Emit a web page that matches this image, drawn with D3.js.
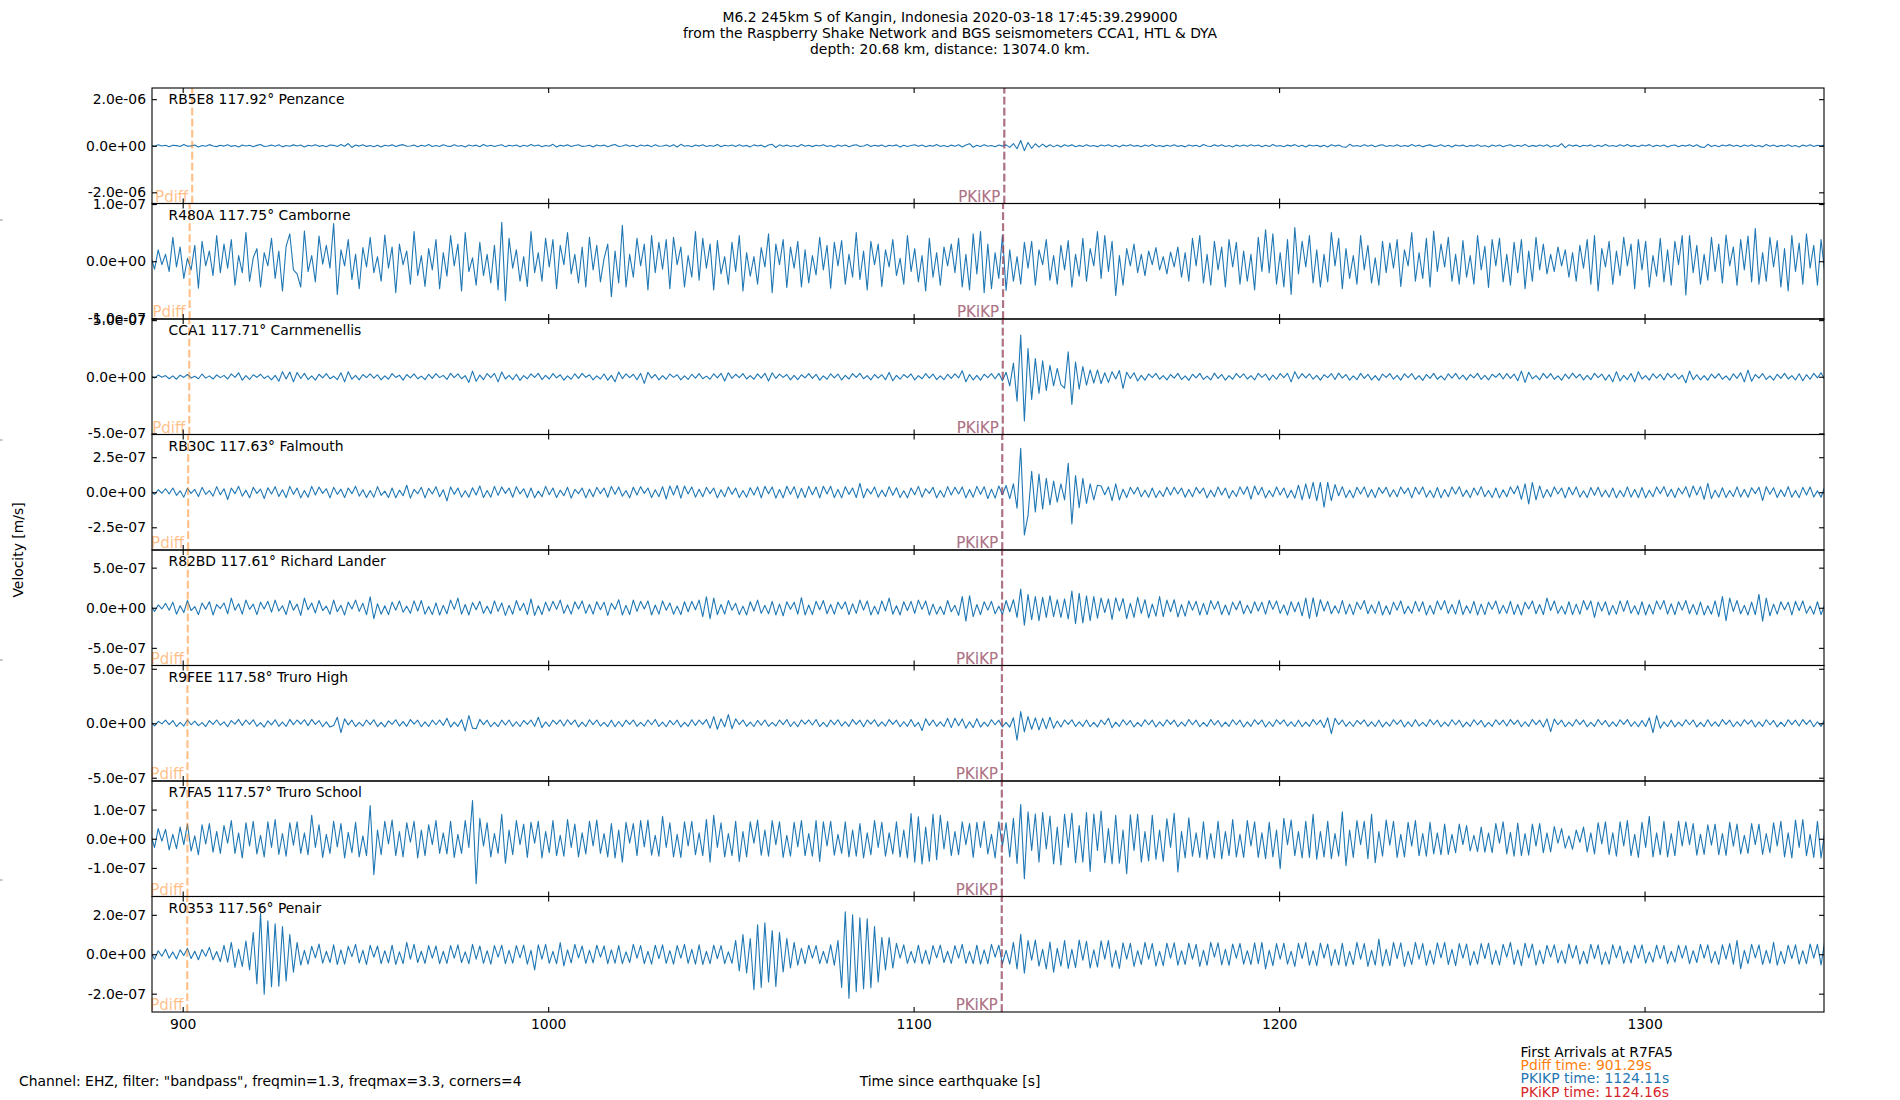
<!DOCTYPE html>
<html>
<head>
<meta charset="utf-8">
<script src="https://d3js.org/d3.v7.min.js"></script>
<style>
  body { margin: 0; background: #fff; }
  svg { display: block; font-family: "DejaVu Sans", sans-serif; }
</style>
</head>
<body>
<svg id="chart" width="1900" height="1100"></svg>
<script>
// ---- station metadata (top to bottom) ----
const codes  = ["RB5E8", "R480A", "CCA1", "RB30C", "R82BD", "R9FEE", "R7FA5", "R0353"];
const dists  = [117.92, 117.75, 117.71, 117.63, 117.61, 117.58, 117.57, 117.56];
const places = ["Penzance", "Camborne", "Carnmenellis", "Falmouth", "Richard Lander", "Truro High", "Truro School", "Penair"];
// arrival times, s after origin
const pdiffT  = [902.6, 901.9, 901.8, 901.5, 901.4, 901.3, 901.29, 901.25];
const pkikpT  = [1124.78, 1124.45, 1124.37, 1124.22, 1124.18, 1124.13, 1124.11, 1124.09];  // PKIKP
const pkikp2T = [1124.83, 1124.50, 1124.42, 1124.27, 1124.23, 1124.18, 1124.16, 1124.14];  // PKiKP
// y limits (m/s) and tick values per panel
const yLimits = [2.48e-6, 1.01e-7, 5.1e-7, 4.12e-7, 7.2e-7, 5.3e-7, 1.98e-7, 2.93e-7];
const yTickVals = [
  [-2e-6, 0, 2e-6], [-1e-7, 0, 1e-7], [-5e-7, 0, 5e-7], [-2.5e-7, 0, 2.5e-7],
  [-5e-7, 0, 5e-7], [-5e-7, 0, 5e-7], [-1e-7, 0, 1e-7], [-2e-7, 0, 2e-7]
];
const xTickVals = [900, 1000, 1100, 1200, 1300];
const xDomain = [891.6, 1349.1];

// ---- traces: velocity in nm/s, first sample at t0, one sample per dt seconds ----
const t0 = 891.3, dt = 1;

const rb5e8 = [
  8,-25,40,-12,18,-45,22,5,-30,55,-18,-6,35,-50,14,-22,48,-10,-38,20,
  -15,42,-28,10,-55,30,-8,25,-40,16,52,-35,-12,28,-20,45,-48,12,-25,38,
  -10,30,-52,22,-14,40,-26,8,-45,35,18,-30,50,-20,95,-75,30,-15,42,-28,
  12,-40,25,-55,20,-10,38,-32,15,48,-22,-8,30,-45,25,-18,52,-30,10,-35,
  40,-15,-28,45,-20,8,-50,32,-12,26,-42,55,-18,20,-35,12,40,-48,22,-10,
  30,-45,18,-25,50,-12,35,-40,10,-22,60,-55,25,-15,38,-30,12,45,-28,-8,
  22,-50,35,-10,28,-42,15,50,-30,-12,40,-25,18,-48,32,-8,26,-38,45,-20,
  -12,35,-28,48,-55,60,-22,10,-40,30,-15,45,-35,12,-25,50,-42,18,-10,32,
  -30,45,-20,15,-48,38,-12,26,-55,30,62,-75,40,-18,28,-35,10,-42,50,-25,
  18,-38,22,-10,45,-30,12,-52,35,-20,28,-45,15,40,-28,-8,50,-35,20,-15,
  30,-48,25,-12,38,-55,20,-30,10,45,-25,35,-40,15,-22,50,-32,8,-45,28,
  -18,40,-50,30,90,-65,22,-35,48,-20,12,-42,30,-15,38,-70,95,-130,225,-210,
  140,-115,85,-60,70,-55,40,-48,30,-52,45,-20,38,-42,15,-30,48,-25,12,-38,
  30,-12,45,-35,20,-50,28,-8,40,-25,15,-45,32,-18,50,-30,10,-38,25,-20,
  42,-28,12,-48,35,-15,22,-40,50,-10,-30,38,-22,45,-32,8,-50,28,-18,35,
  -25,40,-12,30,-45,18,-35,52,-20,10,-42,28,-15,48,-30,22,-55,35,-8,25,
  -38,20,-50,45,-15,30,-40,-68,60,-25,12,-35,48,-20,28,-45,15,40,-30,10,
  -22,45,-35,12,-28,50,-18,30,-48,8,38,-25,-15,42,-32,20,-55,35,-12,28,
  -40,15,-25,48,-30,10,-52,35,-20,28,-45,12,40,-35,22,-18,50,-38,15,-28,
  35,-20,45,-50,12,-30,92,-78,40,-15,28,-42,20,-10,38,-48,25,-32,50,-18,
  10,-35,40,-22,55,-28,15,-45,30,-12,48,-38,20,-25,35,-50,12,30,-42,22,
  -15,38,-28,45,-50,-78,62,-35,18,-40,30,-12,48,-25,20,-45,35,-18,42,-30,
  12,-48,55,-20,30,-38,15,-25,45,-32,10,-50,28,-18,40,-35,22,-12,38,-45
];

const r480a = [
  8,-14,20,-6,12,-18,42,-10,25,-30,5,-15,28,-47,35,-8,18,-25,45,-20,
  30,-12,38,-42,10,-20,50,-35,6,22,-45,15,-8,40,-30,18,-52,26,48,-15,
  -22,-45,53,-18,10,-36,44,-5,28,-12,66,-58,20,-8,38,-32,12,-48,24,-10,
  42,-20,8,-35,46,-12,25,-55,30,-6,18,-40,52,-25,10,-44,22,-15,38,-48,
  15,-26,45,-8,30,-52,50,-18,6,-42,33,-25,12,-38,28,-50,68,-69,40,-12,
  20,-35,8,-44,52,-20,15,-35,40,-10,38,-48,28,-6,50,-22,12,-38,25,-45,
  42,-15,28,-36,5,30,-62,18,-38,63,-45,12,-28,40,-8,30,-50,45,-20,33,
  -14,38,-48,42,-6,25,-45,10,-28,52,-33,40,-12,30,-50,36,-22,8,-40,33,
  -18,45,-52,15,-26,8,-40,24,-10,48,-55,30,-6,38,-46,25,-12,35,-45,20,
  -38,10,-24,42,-15,28,-47,33,-8,36,-40,12,-28,50,-32,18,-50,35,-6,30,
  -44,20,-10,38,-25,5,-40,45,-18,22,-36,10,-52,40,-28,15,-42,25,-8,30,
  -20,40,-45,12,-50,48,-22,52,-55,30,-48,15,-30,45,-51,20,-35,8,-40,33,
  -12,35,-42,20,-6,38,-33,10,-40,28,-15,36,-45,12,-26,40,-35,22,-8,52,
  -30,45,-18,35,-60,10,-42,22,-8,30,-20,12,-25,18,-6,24,-15,8,-22,16,
  -10,25,-28,15,-35,40,-8,45,-38,12,-42,35,-15,25,-45,38,-10,33,-40,18,
  -35,12,-50,42,-18,55,-20,48,-40,15,-45,38,-58,59,-22,35,-10,45,-38,20,
  -45,12,-36,50,-8,40,-48,22,-30,10,-40,45,-15,28,-38,6,-42,35,-20,32,
  -12,38,-44,20,-8,50,-35,15,-30,40,-45,53,-18,30,-10,42,-35,12,-40,36,
  -28,10,-40,45,-15,26,-46,38,-8,40,-36,12,-42,33,-20,38,-48,18,-35,42,
  -15,30,-22,12,-18,25,-8,20,-28,15,-35,28,-12,38,-40,45,-52,22,-10,35,
  -40,18,-25,42,-8,30,-48,38,-15,35,-45,10,-26,40,-36,20,-42,35,-6,45,
  -59,45,-20,28,-40,12,-33,42,-18,30,-38,46,-8,25,-42,38,-15,44,-36,57,
  -40,15,-35,42,-10,36,-45,22,-52,45,-18,32,-40,48,-12,28,-42,38,-20,40
];

const cca1 = [
  6,-12,15,-4,10,-18,8,-22,14,-6,20,-10,5,-18,24,-12,8,-20,16,-8,
  12,-20,25,-6,35,-30,10,-24,18,-5,22,-15,8,-28,12,-40,45,-20,42,-45,
  38,-15,30,-25,8,-30,22,-10,28,-18,5,-26,35,-45,45,-22,12,-28,20,-8,
  25,-12,18,-28,8,-22,28,-6,14,-30,20,-10,26,-18,6,-25,22,-14,28,-8,
  12,-24,30,-8,25,-18,10,-50,50,-40,15,-26,28,-8,30,-45,42,-20,12,-26,
  22,-32,10,-18,26,-6,30,-25,12,-20,28,-10,18,-30,8,-22,26,-14,30,-5,
  18,-28,8,-20,24,-30,12,-45,42,-16,25,-8,22,-26,30,-59,40,-12,20,-28,
  10,-22,24,-6,18,-28,8,-24,22,-12,28,-18,6,-22,26,-10,30,-38,35,-14,
  22,-8,28,-20,10,-22,25,-12,30,-38,35,-15,24,-6,20,-28,12,-25,18,-10,
  28,-14,22,-30,8,-22,26,-10,24,-28,12,-20,28,-6,30,-18,10,-28,20,-12,
  18,-26,38,-35,12,-22,20,-8,25,-28,10,-18,28,-12,24,-25,8,-26,22,-14,
  26,-10,53,-45,20,-28,12,-30,22,-8,28,-18,30,-35,40,-80,120,-215,368,-391,
  250,-200,160,-147,140,-120,100,-80,73,-70,-100,220,-244,130,-110,90,-75,60,-55,60,
  -60,35,-50,45,-20,55,-103,40,-15,35,-38,12,-30,25,-8,30,-22,10,-28,20,
  -12,30,-25,8,-32,22,-10,30,-24,6,-28,32,-15,20,-30,10,-22,28,-8,26,
  -20,10,-28,30,-6,24,-30,15,-22,28,-8,30,-45,45,-18,28,-10,26,-22,12,
  -30,18,-8,28,-24,32,-12,20,-30,8,-26,30,-14,22,-28,10,-32,24,-6,28,
  -22,12,-30,26,-8,28,-24,10,-32,20,-14,30,-22,8,-28,26,-12,30,-20,14,
  -28,20,-10,30,-24,12,-28,22,-6,30,-20,28,-14,24,-35,50,-50,40,-18,10,
  -26,30,-12,28,-22,8,-30,24,-16,32,-10,22,-28,12,-26,30,-8,24,-30,18,
  -45,45,-38,12,-25,28,-45,45,-20,10,-30,26,-12,22,-28,30,-8,26,-20,14,
  -53,50,-25,18,-28,10,-30,24,-12,28,-22,8,-30,26,-14,35,-45,59,-40,20,
  -12,28,-24,8,-30,22,-14,30,-20,10,-28,26,-35,18,-22,30,-10,35,-26,12
];

const rb30c = [
  8,-15,18,-6,25,-12,30,-22,10,-35,28,-8,20,-30,35,-15,12,-28,40,-18,
  25,-52,30,-10,42,-28,15,-40,35,-8,22,-45,32,-12,40,-30,18,-38,42,-15,
  30,-40,12,-36,42,-20,38,-8,25,-40,35,-15,22,-38,30,-10,42,-28,18,-38,
  12,-35,40,-22,8,-38,30,-40,15,-25,50,-42,20,-10,35,-40,28,-12,40,-32,
  18,-62,38,-15,30,-35,10,-36,32,-20,45,-38,12,-35,42,-22,38,-8,30,-36,
  40,-12,25,-38,30,-40,8,-32,42,-18,30,-38,15,-25,35,-42,20,-10,30,-40,
  22,-32,35,-10,30,-36,42,-15,38,-28,12,-40,36,-20,40,-8,30,-38,18,-32,
  40,-48,45,-20,48,-42,45,-12,38,-35,22,-32,35,-10,30,-40,18,-32,38,-15,
  30,-38,12,-35,32,-20,38,-40,42,-10,38,-42,20,-40,43,-15,40,-42,28,-38,
  42,-18,38,-40,43,-12,42,-38,20,-40,40,-15,30,-38,64,-40,25,-12,38,-35,
  15,-30,40,-22,32,-38,10,-40,30,-18,42,-35,25,-8,36,-40,12,-35,40,-20,
  35,-12,38,-40,20,-35,42,-15,40,-45,22,-42,45,-18,48,-45,60,-114,314,-304,
  -165,150,-140,130,-120,100,-90,80,-70,60,-55,207,-226,119,-110,100,-80,60,-55,50,
  45,-18,38,-60,60,-55,22,-38,35,-12,36,-32,15,-35,30,-38,10,-30,36,-20,
  35,-12,30,-36,20,-32,35,-8,30,-40,15,-32,38,-20,30,-42,12,-30,38,-15,
  40,-48,45,-18,35,-40,12,-32,38,-20,30,-40,15,-42,50,-55,60,-45,71,-60,
  70,-107,71,-60,55,-25,40,-38,15,-40,36,-12,38,-35,20,-38,34,-8,36,-32,
  18,-32,38,-10,30,-40,36,-15,38,-35,12,-38,34,-40,20,-32,38,-12,40,-30,
  15,-38,30,-20,40,-32,12,-38,30,-40,18,-32,38,-10,45,-50,60,-83,70,-55,
  45,-40,20,-32,38,-12,30,-40,36,-18,38,-35,10,-38,34,-22,36,-32,15,-35,
  30,-40,12,-32,38,-35,20,-38,34,-40,15,-32,38,-10,40,-30,22,-38,30,-12,
  40,-36,45,-20,40,-50,64,-45,15,-36,32,-38,12,-30,38,-34,20,-36,32,-10,
  35,-59,40,-15,32,-38,18,-30,40,-36,12,-38,35,-20,38,-34,10,-36,38,-35
];

const r82bd = [
  20,-45,35,-15,55,-30,70,-80,25,-60,90,-35,15,-85,60,-20,75,-90,40,-10,
  60,-75,120,-30,50,-80,95,-20,45,-85,70,-15,80,-55,95,-40,25,-85,90,-30,
  45,-95,120,-25,60,-65,90,-35,20,-80,95,-50,30,-90,70,-15,95,-45,55,-85,
  137,-137,50,-80,25,-85,70,-30,85,-55,20,-70,85,-40,90,-80,15,-85,60,-90,
  30,-75,95,-20,120,-80,40,-90,65,-25,80,-70,20,-75,85,-45,60,-95,30,-80,
  90,-35,55,-85,110,-95,25,-85,70,-40,80,-20,95,-70,35,-80,75,-15,85,-70,
  40,-80,75,-25,70,-95,55,-20,100,-90,30,-85,95,-45,80,-15,85,-90,35,-80,
  85,-30,60,-80,20,-85,75,-50,80,-25,95,-110,137,-137,120,-85,40,-80,90,-30,
  55,-85,20,-90,75,-40,95,-70,30,-75,80,-90,45,-100,75,-20,70,-80,125,-90,
  35,-85,80,-25,90,-75,40,-80,70,-15,75,-85,50,-70,95,-30,85,-90,20,-80,
  85,-40,120,-80,25,-90,75,-35,80,-70,95,-20,85,-90,45,-80,15,-85,90,-50,
  30,-95,140,-166,150,-110,40,-85,75,-30,80,-75,20,-85,90,-50,100,-120,233,-216,
  166,-150,140,-160,130,-120,150,-110,100,-120,110,-140,208,-200,180,-190,150,-160,140,-130,
  120,-60,110,-145,125,-40,115,-135,55,-120,130,-70,100,-125,45,-105,140,-110,95,-50,
  100,-115,40,-105,85,-30,80,-90,55,-85,90,-20,80,-85,35,-90,70,-25,85,-75,
  30,-70,75,-40,70,-80,90,-20,85,-70,35,-90,75,-50,70,-100,120,-133,125,-110,
  100,-40,80,-75,25,-70,90,-80,45,-85,70,-20,90,-75,35,-70,80,-90,25,-85,
  70,-30,85,-75,20,-70,80,-45,75,-90,30,-80,85,-25,90,-70,40,-80,95,-85,
  25,-70,80,-90,45,-85,70,-20,85,-75,30,-70,80,-85,40,-90,70,-15,85,-75,
  40,-85,120,-35,85,-70,20,-80,75,-85,45,-80,90,-25,85,-120,70,-40,75,-90,
  30,-80,85,-45,90,-70,25,-85,75,-90,40,-80,85,-20,90,-80,50,-85,75,-30,
  90,-75,40,-85,70,-90,25,-80,85,-110,140,-162,120,-45,90,-75,30,-90,70,-85,
  166,-166,120,-100,45,-80,75,-25,70,-90,80,-35,85,-70,20,-80,75,-85,40,-80
];

const r9fee = [
  10,-25,18,-6,28,-12,25,-30,8,-26,30,-14,20,-22,6,-30,24,-10,30,-18,
  12,-32,25,-8,35,-20,30,-10,32,-28,6,-35,22,-15,32,-28,10,-30,35,-12,
  30,-8,32,-22,35,-10,25,-32,12,-35,-20,55,-86,40,-15,28,-30,8,-26,30,
  -12,32,-30,8,-34,22,-10,32,-26,15,-28,34,-8,28,-32,12,-30,28,-14,30,
  -20,46,-35,10,-28,32,-70,70,-45,-50,35,-12,28,-32,8,-30,28,-16,30,-28,
  14,-30,26,-10,30,-28,55,-40,12,-30,28,-8,30,-26,32,-12,30,-34,10,-30,
  32,-12,30,-26,8,-30,28,-32,16,-30,28,-10,30,-28,8,-26,30,-14,34,-30,
  10,-32,26,-14,28,-34,8,-28,32,-20,30,-10,34,-45,61,-55,40,-32,80,-50,
  40,-12,30,-28,10,-30,26,-18,30,-28,8,-26,30,-12,34,-30,14,-32,30,-8,
  30,-16,34,-30,8,-32,30,-12,32,-26,14,-28,34,-10,28,-32,30,-8,32,-28,
  12,-26,34,-10,28,-32,14,-28,34,-30,8,-67,40,-20,30,-28,12,-30,45,-40,
  46,-22,40,-46,14,-40,42,-35,10,-28,32,-14,28,-34,8,-35,50,-156,107,-80,
  61,-55,50,-61,45,-50,55,-45,20,-35,30,-10,32,-30,12,-28,30,-32,8,-34,
  30,-12,46,-42,10,-28,32,-16,26,-34,8,-28,32,-14,28,-34,12,-26,32,-10,
  28,-32,10,-26,34,-14,28,-32,8,-28,34,-16,26,-32,10,-28,32,-14,28,-34,
  12,-28,32,-10,30,-34,14,-30,32,-8,30,-26,12,-30,28,-32,10,-28,34,-14,
  28,-40,50,-95,45,-12,30,-28,14,-30,26,-8,30,-28,12,-30,28,-34,10,-26,
  32,-10,30,-34,12,-30,32,-26,8,-28,34,-14,28,-32,10,-26,32,-14,28,-34,
  10,-28,32,-14,26,-34,8,-28,32,-12,28,-26,34,-10,28,-32,14,-28,34,-12,
  28,-35,40,-76,38,-14,28,-32,10,-26,34,-12,28,-32,8,-28,34,-14,26,-32,
  12,-28,32,-10,34,-28,14,-32,26,-30,50,-86,70,-45,12,-30,28,-34,10,-26,
  32,-14,30,-34,8,-30,32,-26,12,-28,34,-10,28,-32,14,-26,32,-8,28,-34,
  12,-28,32,-14,26,-34,10,-28,32,-12,28,-26,34,-10,28,-32,14,-28,34,-12
];

const r7fa5 = [
  12,-30,35,-8,32,-38,15,-34,40,-20,50,-42,10,-55,48,-18,52,-46,25,-50,
  45,-15,62,-50,20,-66,55,-25,60,-52,12,-62,58,-30,66,-54,18,-60,55,-22,
  58,-50,20,-55,80,-30,48,-64,15,-50,60,-28,52,-66,22,-48,56,-62,10,-58,
  114,-123,30,-55,60,-18,64,-58,25,-62,55,-12,60,-66,30,-58,48,-20,62,-50,
  20,-52,60,-64,15,-50,62,-30,131,-154,70,-25,55,-62,18,-50,84,-84,30,-55,
  62,-20,50,-64,56,-15,60,-66,25,-48,62,-58,12,-60,66,-30,50,-62,20,-52,
  60,-25,64,-50,18,-62,52,-66,30,-80,56,-15,52,-58,62,-28,64,-56,12,-60,
  77,-30,55,-62,15,-64,58,-25,60,-55,20,-58,66,-80,80,-30,55,-62,18,-58,
  60,-78,25,-62,58,-15,64,-56,30,-60,62,-20,58,-64,12,-60,56,-28,62,-58,
  18,-60,62,-78,58,-25,60,-56,15,-50,58,-62,30,-60,52,-66,20,-55,62,-30,
  56,-60,20,-52,58,-62,30,-66,86,-80,75,-86,40,-78,84,-72,80,-35,60,-58,
  25,-55,58,-20,52,-64,56,-30,60,-52,15,-66,58,-25,55,-62,70,-85,117,-137,
  92,-40,85,-80,90,-35,78,-86,40,-90,84,-30,88,-82,45,-80,90,-112,85,-40,
  95,-82,35,-86,80,-84,30,-120,82,-40,84,-80,25,-76,80,-70,30,-78,68,-30,
  87,-114,25,-66,72,-60,20,-64,58,-70,18,-66,60,-68,25,-58,66,-62,15,-64,
  62,-25,58,-64,20,-68,56,-62,30,-103,70,-20,64,-58,25,-66,60,-64,84,-70,
  25,-62,60,-68,18,-60,92,-92,30,-64,62,-20,60,-68,84,-82,25,-60,64,-22,
  60,-64,15,-62,56,-25,62,-58,18,-60,56,-52,20,-55,50,-54,15,-48,50,-20,
  45,-42,12,-44,40,-46,20,-48,52,-15,58,-52,22,-60,54,-58,18,-56,50,-25,
  52,-48,20,-45,42,-15,35,-32,10,-36,30,-12,40,-45,20,-52,55,-18,58,-54,
  20,-60,58,-25,62,-58,15,-64,56,-30,77,-62,20,-55,60,-62,18,-58,60,-25,
  58,-20,52,-56,15,-54,48,-22,50,-55,18,-57,56,-25,50,-52,12,-50,52,-20,
  50,-54,18,-48,55,-25,60,-62,20,-66,64,-30,66,-58,15,-64,60,-66,25,-62
];

const r0353 = [
  8,-25,18,-10,25,-20,12,-24,22,-6,30,-22,15,-28,24,-10,35,-28,14,-38,
  45,-40,60,-67,25,-62,67,-80,110,-150,208,-203,170,-165,155,-162,140,-135,100,-91,
  60,-55,20,-50,40,-18,52,-45,15,-42,48,-52,22,-50,40,-12,50,-44,20,-52,
  45,-15,42,-48,18,-44,46,-52,12,-48,60,-25,50,-42,15,-46,44,-20,42,-48,
  15,-46,44,-20,48,-42,12,-48,50,-25,42,-46,18,-50,44,-15,46,-48,20,-45,
  44,-18,46,-50,20,-79,48,-25,50,-46,15,-48,59,-59,22,-44,50,-18,42,-46,
  20,-44,46,-15,42,-48,22,-45,44,-48,12,-42,50,-20,44,-48,15,-50,46,-22,
  48,-46,18,-50,44,-20,50,-46,25,-50,48,-52,15,-48,46,-22,44,-48,12,-46,
  70,-85,100,-95,80,-180,150,-169,160,-140,120,-163,110,-90,80,-70,60,-55,30,-48,
  46,-20,44,-48,15,-46,48,-55,70,-169,216,-223,200,-190,185,-175,180,-170,140,-140,
  85,-80,85,-70,55,-20,48,-46,15,-44,46,-48,20,-50,44,-18,46,-42,15,-46,
  44,-20,50,-46,15,-48,46,-50,22,-48,50,-15,46,-48,20,-50,60,-75,101,-96,
  70,-30,72,-60,25,-75,62,-91,30,-60,70,-72,25,-68,72,-30,66,-70,22,-65,
  68,-25,70,-66,20,-72,58,-25,55,-62,18,-52,60,-25,54,-60,15,-58,56,-20,
  58,-55,18,-52,56,-25,50,-62,20,-56,60,-15,58,-54,25,-56,52,-20,55,-50,
  18,-52,58,-48,60,-74,20,-58,54,-25,56,-50,15,-62,55,-22,60,-56,18,-58,
  56,-20,52,-58,25,-54,56,-60,15,-52,60,-25,54,-62,20,-55,77,-60,25,-58,
  60,-22,58,-62,15,-52,60,-25,54,-56,20,-50,58,-18,60,-52,25,-58,54,-20,
  52,-56,15,-50,54,-22,56,-52,20,-54,50,-15,60,-52,22,-58,56,-18,52,-55,
  20,-48,45,-15,48,-44,18,-46,52,-20,44,-50,15,-48,50,-22,48,-52,12,-50,
  48,-18,42,-46,15,-44,46,-20,48,-45,12,-40,46,-22,44,-48,15,-40,46,-20,
  44,-48,18,-42,50,-20,48,-44,15,-52,48,-25,54,-50,70,-73,20,-48,50,-18,
  48,-52,20,-46,61,-55,15,-48,46,-22,48,-50,18,-48,52,-20,50,-54,64,-96
];

const traces = [rb5e8, r480a, cca1, rb30c, r82bd, r9fee, r7fa5, r0353];

// ---- text ----
const titleLines = [
  "M6.2 245km S of Kangin, Indonesia 2020-03-18 17:45:39.299000",
  "from the Raspberry Shake Network and BGS seismometers CCA1, HTL & DYA",
  "depth: 20.68 km, distance: 13074.0 km."
];
const legendLines = [
  {text: "First Arrivals at R7FA5", color: "#000"},
  {text: "Pdiff time: 901.29s", color: "#ff7f0e"},
  {text: "PKIKP time: 1124.11s", color: "#1f77b4"},
  {text: "PKiKP time: 1124.16s", color: "#d62728"}
];
const edgeMarks = [0.2, 0.4, 0.6, 0.8];

// ---- layout ----
const W = 1900, H = 1100;
const plotL = 152, plotR = 1824, plotT = 88, plotB = 1012;
const ph = (plotB - plotT) / codes.length;
const tickLen = 4.9;
const fs = 13.9;

const svg = d3.select("#chart");
svg.append("rect").attr("width", W).attr("height", H).attr("fill", "#fff");

const x = d3.scaleLinear().domain(xDomain).range([plotL, plotR]);

function sci(v) {
  if (v === 0) return "0.0e+00";
  const [m, e] = v.toExponential(1).split("e");
  const n = +e;
  return m + "e" + (n < 0 ? "-" : "+") + String(Math.abs(n)).padStart(2, "0");
}

const defs = svg.append("defs");

codes.forEach((code, i) => {
  const y0 = plotT + i * ph, y1 = y0 + ph;
  const y = d3.scaleLinear().domain([-yLimits[i], yLimits[i]]).range([y1, y0]);
  const g = svg.append("g");

  defs.append("clipPath").attr("id", "clip" + i)
    .append("rect").attr("x", plotL).attr("y", y0).attr("width", plotR - plotL).attr("height", ph);

  const line = d3.line()
    .x((d, k) => x(t0 + k * dt))
    .y(d => y(d * 1e-9));

  g.append("path")
    .datum(traces[i])
    .attr("clip-path", `url(#clip${i})`)
    .attr("fill", "none")
    .attr("stroke", "#1f77b4")
    .attr("stroke-width", 1.1)
    .attr("stroke-linejoin", "round")
    .attr("d", line);

  // arrival markers
  const arrivals = [
    {t: pdiffT[i], name: "Pdiff", color: "#ff7f0e"},
    {t: pkikpT[i], name: "PKIKP", color: "#1f77b4"},
    {t: pkikp2T[i], name: "PKiKP", color: "#d62728"}
  ];
  arrivals.forEach(a => {
    g.append("line")
      .attr("x1", x(a.t)).attr("x2", x(a.t))
      .attr("y1", y1).attr("y2", y0)
      .attr("stroke", a.color).attr("stroke-opacity", 0.5)
      .attr("stroke-width", 2.1)
      .attr("stroke-dasharray", "7.7,3.3");
    g.append("text")
      .attr("x", x(a.t) - 4).attr("y", y1 - 2)
      .attr("text-anchor", "end")
      .attr("font-size", 15)
      .attr("fill", a.color).attr("fill-opacity", 0.5)
      .text(a.name);
  });

  // station label
  g.append("text")
    .attr("x", plotL + 16.5).attr("y", y0 + 16.3)
    .attr("font-size", fs)
    .text(`${code} ${dists[i].toFixed(2)}° ${places[i]}`);

  // axes, ticks pointing inward
  const yl = g.append("g").attr("transform", `translate(${plotL},0)`)
    .call(d3.axisLeft(y).tickValues(yTickVals[i]).tickFormat(sci)
      .tickSizeInner(-tickLen).tickSizeOuter(0).tickPadding(6));
  const yr = g.append("g").attr("transform", `translate(${plotR},0)`)
    .call(d3.axisRight(y).tickValues(yTickVals[i]).tickFormat("")
      .tickSizeInner(-tickLen).tickSizeOuter(0));
  const xt = g.append("g").attr("transform", `translate(0,${y0})`)
    .call(d3.axisTop(x).tickValues(xTickVals).tickFormat("")
      .tickSizeInner(-tickLen).tickSizeOuter(0));
  const xb = g.append("g").attr("transform", `translate(0,${y1})`)
    .call(d3.axisBottom(x).tickValues(xTickVals)
      .tickFormat(i === codes.length - 1 ? d3.format("d") : "")
      .tickSizeInner(-tickLen).tickSizeOuter(0).tickPadding(7));

  [yl, yr, xt, xb].forEach(a => {
    a.select(".domain").remove();
    a.attr("font-size", fs).attr("font-family", "DejaVu Sans, sans-serif");
    a.selectAll(".tick line").attr("stroke", "#000").attr("stroke-width", 1.1);
    a.selectAll(".tick text").attr("fill", "#000");
  });

  g.append("rect")
    .attr("x", plotL).attr("y", y0).attr("width", plotR - plotL).attr("height", ph)
    .attr("fill", "none").attr("stroke", "#000").attr("stroke-width", 1.1);
});

// title
svg.append("g").selectAll("text").data(titleLines).join("text")
  .attr("x", W / 2).attr("y", (d, k) => 22 + k * 16)
  .attr("text-anchor", "middle").attr("font-size", fs)
  .text(d => d);

// y label
svg.append("text")
  .attr("transform", `translate(23,${H / 2}) rotate(-90)`)
  .attr("text-anchor", "middle").attr("font-size", fs)
  .text("Velocity [m/s]");

// bottom texts
svg.append("text").attr("x", 19).attr("y", 1086).attr("font-size", fs)
  .text('Channel: EHZ, filter: "bandpass", freqmin=1.3, freqmax=3.3, corners=4');
svg.append("text").attr("x", W / 2).attr("y", 1086).attr("text-anchor", "middle").attr("font-size", fs)
  .text("Time since earthquake [s]");

svg.append("g").selectAll("text").data(legendLines).join("text")
  .attr("x", 1520.5).attr("y", (d, k) => 1056.5 + k * 13.4)
  .attr("font-size", fs).attr("fill", d => d.color)
  .text(d => d.text);

// tiny marks at the left figure edge
svg.append("g").selectAll("line").data(edgeMarks).join("line")
  .attr("x1", 0).attr("x2", 2.5)
  .attr("y1", d => d * H).attr("y2", d => d * H)
  .attr("stroke", "#888").attr("stroke-width", 1);
</script>
</body>
</html>
